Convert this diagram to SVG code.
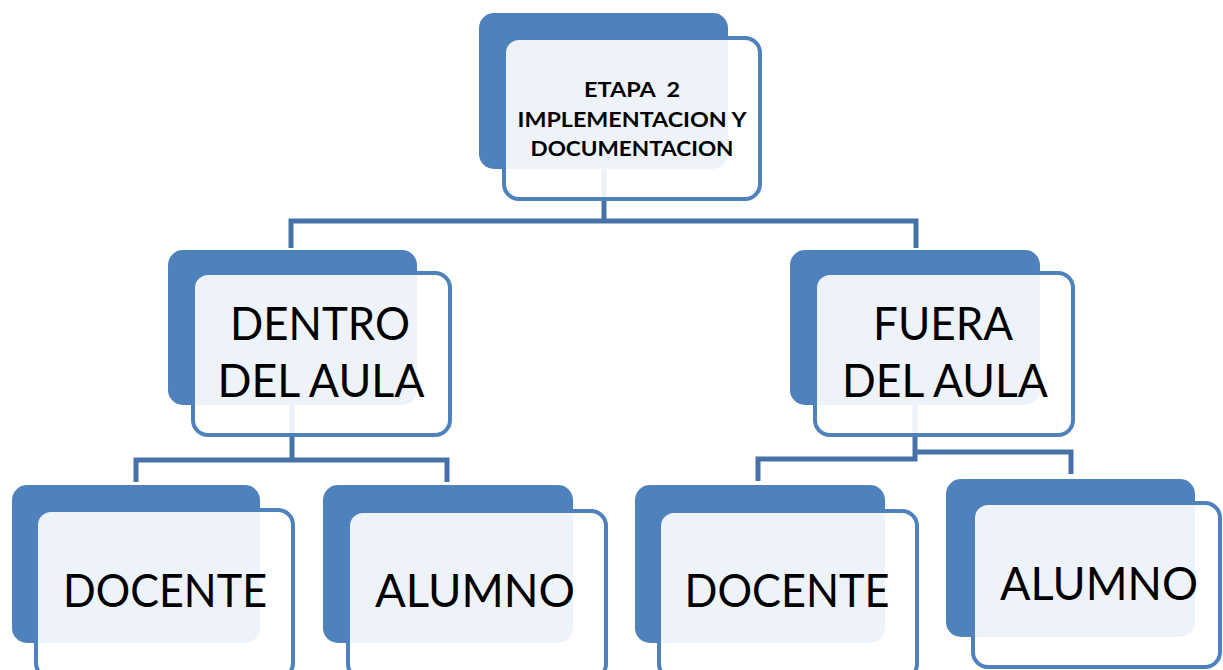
<svg xmlns="http://www.w3.org/2000/svg" width="1223" height="670" viewBox="0 0 1223 670">
<style>
.back{fill:#4f81bd}
.front{fill:#ffffff;fill-opacity:0.9;stroke:#4f81bd;stroke-width:4}
.conn{fill:none;stroke:#4672a8;stroke-width:5}
.big{font-family:Lato,"Open Sans","Liberation Sans",sans-serif;font-size:46px;fill:#000;text-anchor:middle}
.small{font-family:Lato,"Open Sans","Liberation Sans",sans-serif;font-size:21px;font-weight:bold;fill:#000;text-anchor:middle}
</style>
<rect width="1223" height="670" fill="#ffffff"/>
<g id="connectors">
<path class="conn" d="M604,100 V221 M291,248 V221 H916 V248"/>
<path class="conn" d="M292,350 V460 M136,482 V460 H447 V482"/>
<path class="conn" d="M915,350 V459 H758 V481 M915,452 H1071 V474"/>
</g>
<g id="etapa2">
<rect class="back" x="479" y="13" width="249" height="156" rx="15"/>
<rect class="front" x="504" y="38" width="256" height="161" rx="15"/>
<text class="small" x="632" y="97" textLength="96" lengthAdjust="spacingAndGlyphs" xml:space="preserve">ETAPA  2</text>
<text class="small" x="632" y="127" textLength="229" lengthAdjust="spacingAndGlyphs">IMPLEMENTACION Y</text>
<text class="small" x="632" y="156" textLength="203" lengthAdjust="spacingAndGlyphs">DOCUMENTACION</text>
</g>
<g id="dentro">
<rect class="back" x="168" y="250" width="249" height="155" rx="15"/>
<rect class="front" x="193" y="273" width="257" height="162" rx="15"/>
<text class="big" x="320" y="340" textLength="180" lengthAdjust="spacingAndGlyphs">DENTRO</text>
<text class="big" x="321" y="397" textLength="207" lengthAdjust="spacingAndGlyphs">DEL AULA</text>
</g>
<g id="fuera">
<rect class="back" x="790" y="250" width="250" height="155" rx="15"/>
<rect class="front" x="815" y="273" width="258" height="162" rx="15"/>
<text class="big" x="943" y="340" textLength="140" lengthAdjust="spacingAndGlyphs">FUERA</text>
<text class="big" x="945" y="397" textLength="206" lengthAdjust="spacingAndGlyphs">DEL AULA</text>
</g>
<g id="docente1">
<rect class="back" x="12" y="485" width="248" height="158" rx="15"/>
<rect class="front" x="36" y="510" width="257" height="168" rx="15"/>
<text class="big" x="165" y="607" textLength="204" lengthAdjust="spacingAndGlyphs">DOCENTE</text>
</g>
<g id="alumno1">
<rect class="back" x="323" y="485" width="250" height="158" rx="15"/>
<rect class="front" x="348" y="511" width="258" height="168" rx="15"/>
<text class="big" x="475" y="607" textLength="200" lengthAdjust="spacingAndGlyphs">ALUMNO</text>
</g>
<g id="docente2">
<rect class="back" x="635" y="485" width="250" height="158" rx="15"/>
<rect class="front" x="659" y="511" width="258" height="168" rx="15"/>
<text class="big" x="787" y="607" textLength="205" lengthAdjust="spacingAndGlyphs">DOCENTE</text>
</g>
<g id="alumno2">
<rect class="back" x="946" y="479" width="249" height="158" rx="15"/>
<rect class="front" x="973" y="503" width="247" height="164" rx="15"/>
<text class="big" x="1099" y="600" textLength="198" lengthAdjust="spacingAndGlyphs">ALUMNO</text>
</g>
</svg>
